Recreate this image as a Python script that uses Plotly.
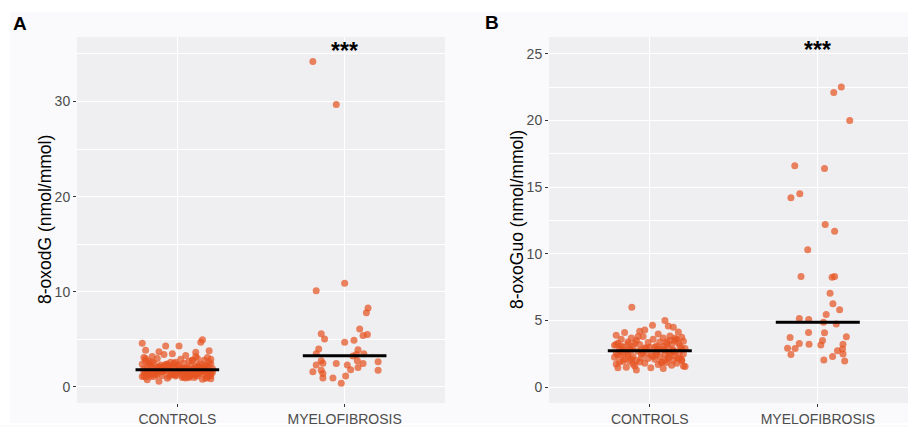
import plotly.graph_objects as go

# ---------------- data ----------------
categories = ["CONTROLS", "MYELOFIBROSIS"]

# Panel A: 8-oxodG (nmol/mmol)
ctrl_a = [4.6, 4.95, 4.7, 4.3, 4.3, 3.85, 3.7, 3.65, 3.8, 3.5,
          3.3, 3.2, 3.1, 3.4, 3.0, 3.1, 2.9, 2.8, 3.0, 2.7,
          2.6, 2.9, 2.5, 2.8, 2.6, 2.4, 2.7, 2.5, 2.3, 2.6,
          2.4, 2.2, 2.5, 2.3, 2.1, 2.4, 2.2, 2.0, 2.3, 2.1,
          1.9, 2.2, 2.0, 2.1, 1.9, 2.0, 1.85, 2.05, 1.95, 2.15,
          1.9, 2.25, 2.35, 2.0, 1.9, 2.1, 2.2, 1.85, 1.95, 2.0,
          1.75, 1.7, 1.6, 1.5, 1.4, 1.3, 1.2, 1.1, 1.0, 0.9,
          0.6, 0.75, 0.85, 0.8, 0.9, 1.65, 1.55, 1.45, 1.35, 1.25,
          1.15, 1.05, 1.7, 1.6, 1.5, 1.4, 1.3, 1.2, 1.1, 1.0,
          1.75, 1.65, 1.55, 1.45, 1.35, 1.25, 1.15, 1.05, 0.95, 1.7,
          1.6, 1.5, 1.4, 1.3, 1.2, 1.1, 1.75, 1.65, 1.55, 1.45,
          1.35, 1.25, 1.7, 1.6, 1.5, 1.4, 1.3, 1.2, 1.1, 1.0,
          2.0, 2.2, 2.4, 2.6, 1.9, 2.1, 2.3, 2.5, 2.8, 3.0,
          2.0, 2.2, 1.85, 2.7, 3.2, 1.7, 1.5, 1.3, 1.1, 1.6,
          1.4, 1.2, 1.0, 1.75, 1.55, 1.35, 1.15, 1.65, 1.45, 1.25]
ctrl_a_jitter = [-0.21, 0.15, 0.14, 0.01, -0.07, -0.19, -0.11, 0.11, 0.19, -0.03,
                 0.05, -0.15, 0.18, -0.08, 0.12, -0.2, 0.02, 0.16, -0.12, 0.07,
                 -0.04, 0.2, -0.17, 0.09, -0.01, 0.14, -0.19, 0.04, -0.1, 0.19,
                 -0.06, 0.11, -0.14, 0.0, 0.17, -0.21, 0.08, -0.09, 0.13, -0.02,
                 0.21, -0.16, 0.06, -0.11, 0.15, -0.05, 0.1, -0.18, 0.03, 0.18,
                 -0.13, 0.01, -0.07, 0.16, -0.2, 0.12, -0.03, 0.09, -0.15, 0.05,
                 -0.08, 0.14, -0.19, 0.06, 0.2, -0.12, 0.03, -0.16, 0.1, 0.17,
                 -0.11, -0.18, 0.2, 0.15, -0.06, 0.08, -0.14, 0.19, -0.03, 0.11,
                 -0.2, 0.04, 0.16, -0.09, 0.0, 0.13, -0.17, 0.07, -0.05, 0.18,
                 -0.12, 0.02, 0.21, -0.15, 0.09, -0.01, 0.12, -0.19, 0.05, -0.07,
                 0.15, -0.13, 0.1, -0.04, 0.19, -0.21, 0.03, -0.1, 0.14, -0.16,
                 0.06, 0.17, -0.08, 0.01, -0.18, 0.11, -0.02, 0.2, -0.14, 0.07,
                 0.13, -0.06, 0.2, -0.15, 0.04, -0.11, 0.17, -0.02, 0.09, -0.19,
                 0.15, -0.08, 0.01, -0.17, 0.11, -0.04, 0.18, -0.13, 0.07, -0.2,
                 0.12, -0.09, 0.03, 0.16, -0.14, 0.06, -0.01, 0.2, -0.16, 0.1]
mf_a = [34.2, 29.7, 10.1, 10.9, 8.3, 7.8, 6.1, 5.6, 5.05, 5.5,
        5.4, 4.7, 4.9, 4.0, 3.9, 3.5, 3.5, 3.4, 3.25, 2.75,
        2.75, 2.5, 2.3, 2.45, 2.3, 2.45, 2.65, 2.05, 1.8, 1.6,
        1.75, 1.4, 1.75, 0.95, 0.95, 1.15, 0.4]
mf_a_jitter = [-0.19, -0.05, -0.17, 0.0, 0.14, 0.13, 0.09, -0.14, -0.12, 0.136,
               0.11, 0.0, 0.056, -0.155, 0.08, -0.17, 0.115, 0.07, 0.05, -0.14,
               0.076, -0.13, -0.17, -0.05, 0.016, 0.11, 0.2, 0.08, 0.036, -0.19,
               -0.14, -0.13, 0.2, -0.13, -0.07, 0.006, -0.02]
median_a = [1.8, 3.27]

# Panel B: 8-oxoGuo (nmol/mmol)
ctrl_b = [6.0, 5.0, 4.65, 4.6, 4.5, 4.3, 4.2, 4.15, 4.1, 4.0,
          3.9, 3.85, 3.8, 3.75, 3.7, 3.7, 3.6, 3.6, 3.5, 3.5,
          3.45, 3.4, 3.4, 3.35, 3.3, 3.3, 3.25, 3.2, 3.2, 3.15,
          3.1, 3.1, 3.05, 3.0, 3.0, 2.95, 2.95, 2.9, 2.9, 2.85,
          2.85, 2.8, 2.8, 2.78, 2.75, 3.6, 3.3, 3.0, 2.9, 3.2,
          3.5, 3.8, 2.85, 3.1, 3.4, 2.95, 3.7, 3.25, 3.05, 2.8,
          2.7, 2.7, 2.65, 2.6, 2.6, 2.55, 2.5, 2.5, 2.45, 2.4,
          2.4, 2.35, 2.3, 2.3, 2.25, 2.2, 2.2, 2.15, 2.1, 2.1,
          2.05, 2.0, 2.0, 1.95, 1.9, 1.9, 1.85, 1.8, 1.8, 1.75,
          1.7, 1.65, 1.6, 1.55, 1.5, 1.47, 1.47, 1.4, 1.3, 2.6,
          2.5, 2.4, 2.3, 2.2, 2.1, 2.0, 1.9, 2.65, 2.55, 2.45,
          2.35, 2.25, 2.15, 2.05, 1.95, 1.85, 1.75, 2.7, 2.5, 1.6]
ctrl_b_jitter = [-0.107, 0.09, 0.016, 0.11, 0.14, -0.03, -0.06, 0.17, -0.15, 0.05,
                 -0.2, 0.12, -0.04, 0.19, -0.11, 0.08, -0.17, 0.02, 0.15, -0.08,
                 0.2, -0.13, 0.06, -0.01, 0.17, -0.19, 0.1, -0.06, 0.13, -0.21,
                 0.04, 0.18, -0.1, 0.0, -0.16, 0.11, -0.03, 0.21, -0.12, 0.07,
                 -0.18, 0.14, -0.05, 0.09, -0.14, 0.16, -0.09, 0.03, 0.19, -0.2,
                 0.12, -0.07, 0.05, -0.17, 0.1, -0.02, 0.15, -0.13, 0.08, -0.11,
                 0.18, -0.07, 0.04, -0.16, 0.12, -0.02, 0.2, -0.13, 0.09, -0.19,
                 0.01, 0.15, -0.1, 0.06, -0.21, 0.17, -0.05, 0.11, -0.15, 0.03,
                 0.14, -0.08, 0.19, -0.12, 0.07, -0.18, 0.1, -0.03, 0.16, -0.2,
                 0.05, 0.13, -0.09, 0.21, -0.14, 0.006, -0.19, 0.08, -0.08, -0.04,
                 0.12, -0.17, 0.02, 0.18, -0.11, 0.09, -0.06, 0.15, -0.2, 0.04,
                 -0.13, 0.11, -0.01, 0.19, -0.16, 0.07, -0.1, 0.14, -0.05, 0.2]
mf_b = [22.5, 22.1, 20.0, 16.6, 16.4, 14.5, 14.2, 12.2, 11.7, 10.3,
        8.3, 8.25, 8.3, 7.05, 6.25, 5.8, 5.45, 5.15, 5.07, 4.87,
        4.75, 4.1, 4.08, 3.73, 3.78, 3.5, 3.28, 3.23, 3.16, 3.23,
        2.93, 2.91, 2.86, 2.74, 2.5, 2.46, 2.3, 2.04, 1.96]
mf_b_jitter = [0.14, 0.095, 0.19, -0.137, 0.04, -0.107, -0.16, 0.044, 0.1, -0.06,
               -0.1, 0.085, 0.1, 0.073, 0.09, 0.13, 0.05, -0.11, -0.054, 0.034,
               0.11, -0.055, 0.04, -0.165, 0.17, 0.028, -0.11, -0.052, 0.018, 0.15,
               -0.18, -0.135, 0.147, 0.117, 0.15, -0.16, 0.088, 0.036, 0.16]
median_b = [2.74, 4.87]

y_title_a = "8-oxodG (nmol/mmol)"
y_title_b = "8-oxoGuo (nmol/mmol)"
signif = "***"

# ---------------- figure ----------------
W, H = 908, 427
POINT = "rgba(230,85,35,0.72)"
FONT = "Liberation Sans, Arial, sans-serif"

fig = go.Figure()


def add_group(vals, jit, pos, xa, ya):
    fig.add_trace(go.Scatter(
        x=[pos + j for j in jit], y=vals, mode="markers",
        marker=dict(color=POINT, size=7, line=dict(width=0)),
        xaxis=xa, yaxis=ya, showlegend=False, hoverinfo="y"))


add_group(ctrl_a, ctrl_a_jitter, 1, "x", "y")
add_group(mf_a, mf_a_jitter, 2, "x", "y")
add_group(ctrl_b, ctrl_b_jitter, 1, "x2", "y2")
add_group(mf_b, mf_b_jitter, 2, "x2", "y2")

for meds, xa, ya in [(median_a, "x", "y"), (median_b, "x2", "y2")]:
    for i, m in enumerate(meds):
        fig.add_trace(go.Scatter(
            x=[i + 1 - 0.25, i + 1 + 0.25], y=[m, m], mode="lines",
            line=dict(color="black", width=3), xaxis=xa, yaxis=ya,
            showlegend=False, hoverinfo="skip"))

ydom = [1 - 405 / H, 1 - 37 / H]
axis_common = dict(
    showgrid=True, gridcolor="white", gridwidth=1.3, zeroline=False,
    ticks="outside", ticklen=3, tickwidth=1, tickcolor="#333333",
    tickfont=dict(family=FONT, size=14, color="#4D4D4D"),
    showline=False, fixedrange=True)

fig.update_layout(
    width=W, height=H, margin=dict(l=0, r=0, t=0, b=0),
    paper_bgcolor="#FAFAFC", plot_bgcolor="#EFEFF2",
    font=dict(family=FONT),
    xaxis=dict(domain=[77 / W, 445 / W], range=[0.4, 2.6],
               tickvals=[1, 2], ticktext=categories, anchor="y", **axis_common),
    yaxis=dict(domain=ydom, range=[-1.7, 36.8], tickvals=[0, 10, 20, 30],
               anchor="x",
               minor=dict(tickvals=[5, 15, 25, 35], showgrid=True,
                          gridcolor="white", gridwidth=0.6, ticks=""),
               **axis_common),
    xaxis2=dict(domain=[549 / W, 1.0], range=[0.4, 0.4 + (W - 549) / 168.0],
                tickvals=[1, 2], ticktext=categories, anchor="y2", **axis_common),
    yaxis2=dict(domain=ydom, range=[-1.19, 26.27],
                tickvals=[0, 5, 10, 15, 20, 25], anchor="x2",
                minor=dict(tickvals=[2.5, 7.5, 12.5, 17.5, 22.5], showgrid=True,
                           gridcolor="white", gridwidth=0.6, ticks=""),
                **axis_common),
)

# white margins around the light figure background
for x0, x1, y0, y1 in [(0, 1, 1 - 12 / H, 1), (0, 10 / W, 0, 1), (0, 1, 0, 2 / H)]:
    fig.add_shape(type="rect", xref="paper", yref="paper", x0=x0, x1=x1,
                  y0=y0, y1=y1, fillcolor="white", line=dict(width=0), layer="below")

# panel letters
fig.add_annotation(text="<b>A</b>", xref="paper", yref="paper", x=20 / W, y=1 - 24 / H,
                   showarrow=False, font=dict(family=FONT, size=19, color="black"),
                   xanchor="center", yanchor="middle")
fig.add_annotation(text="<b>B</b>", xref="paper", yref="paper", x=492 / W, y=1 - 23 / H,
                   showarrow=False, font=dict(family=FONT, size=19, color="black"),
                   xanchor="center", yanchor="middle")

# y titles
fig.add_annotation(text=y_title_a, xref="paper", yref="paper", x=45 / W, y=1 - 221 / H,
                   textangle=-90, showarrow=False,
                   font=dict(family=FONT, size=17.5, color="black"),
                   xanchor="center", yanchor="middle")
fig.add_annotation(text=y_title_b, xref="paper", yref="paper", x=517 / W, y=1 - 221 / H,
                   textangle=-90, showarrow=False,
                   font=dict(family=FONT, size=17.5, color="black"),
                   xanchor="center", yanchor="middle")

# significance stars
fig.add_annotation(text="<b>" + signif + "</b>", x=2, y=35.3, xref="x", yref="y",
                   showarrow=False, font=dict(family=FONT, size=23, color="black"),
                   xanchor="center", yanchor="middle")
fig.add_annotation(text="<b>" + signif + "</b>", x=2, y=25.25, xref="x2", yref="y2",
                   showarrow=False, font=dict(family=FONT, size=23, color="black"),
                   xanchor="center", yanchor="middle")

fig.write_html("out.html")
